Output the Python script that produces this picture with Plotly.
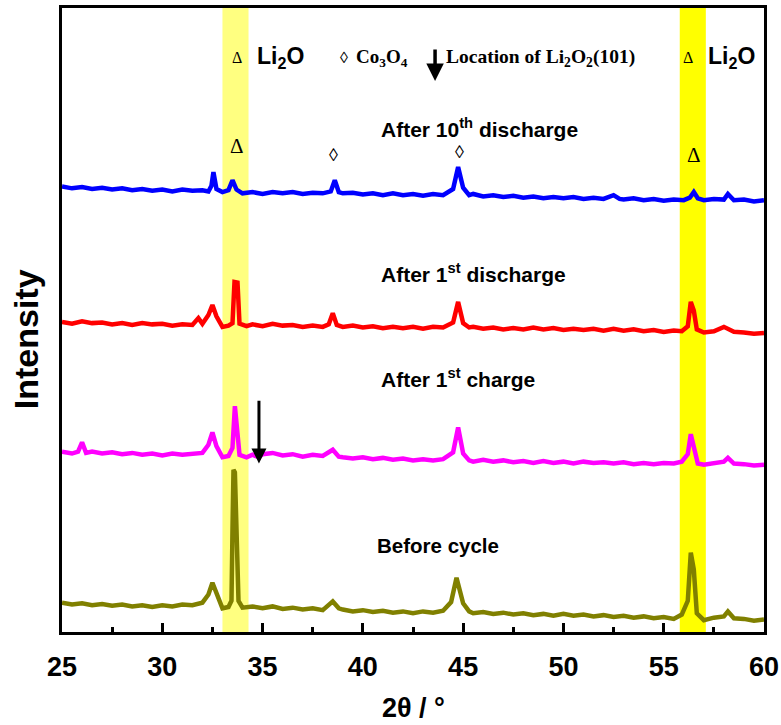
import plotly.graph_objects as go

# ---------------- data ----------------
before_x = [25.0, 25.5, 26.0, 26.5, 27.0, 27.5, 28.0, 28.5, 29.0, 29.5, 30.0, 30.5, 31.0, 31.5, 32.0,
            32.3, 32.5, 32.7, 33.0, 33.3, 33.45, 33.5, 33.55, 33.62, 33.68, 33.8, 34.0, 34.5, 35.0, 35.5,
            36.0, 36.5, 37.0, 37.5, 38.0, 38.5, 38.8, 39.0, 39.5, 40.0, 40.5, 41.0, 41.5, 42.0, 42.5,
            43.0, 43.5, 44.0, 44.4, 44.67, 45.0, 45.3, 45.5, 46.0, 46.5, 47.0, 47.5, 48.0, 48.5, 49.0,
            49.5, 50.0, 50.5, 51.0, 51.5, 52.0, 52.5, 53.0, 53.5, 54.0, 54.5, 55.0, 55.5, 55.9, 56.2,
            56.35, 56.5, 56.65, 57.0, 57.5, 58.0, 58.2, 58.5, 59.0, 59.5, 60.0]
before_y = [4.7, 4.4, 4.6, 4.3, 4.5, 4.2, 4.4, 4.1, 4.3, 4.0, 4.3, 4.1, 4.4, 4.3, 4.7,
            6.0, 7.9, 6.2, 3.8, 4.0, 5.0, 16.4, 26.0, 25.6, 16.0, 5.0, 3.9, 4.1, 3.8, 4.1,
            3.7, 3.9, 3.6, 3.8, 3.5, 4.9, 3.8, 3.6, 3.3, 3.5, 3.2, 3.4, 3.1, 3.3, 3.0,
            3.3, 3.1, 3.4, 4.8, 8.7, 4.6, 3.3, 3.0, 3.2, 2.9, 3.1, 2.8, 3.0, 2.7, 2.9,
            2.6, 2.9, 2.6, 2.8, 2.5, 2.7, 2.4, 2.6, 2.3, 2.5, 2.2, 2.4, 2.1, 2.8, 5.0,
            12.7, 10.0, 3.0, 1.9, 2.3, 2.5, 3.3, 2.2, 2.1, 1.8, 2.0]

charge_x = [25.0, 25.5, 25.8, 26.0, 26.2, 26.5, 27.0, 27.5, 28.0, 28.5, 29.0, 29.5, 30.0, 30.5, 31.0,
            31.5, 32.0, 32.3, 32.5, 32.7, 33.0, 33.3, 33.5, 33.62, 33.7, 33.85, 34.2, 34.5, 34.8, 35.0,
            35.5, 36.0, 36.5, 37.0, 37.5, 38.0, 38.5, 38.8, 39.0, 39.5, 40.0, 40.5, 41.0, 41.5, 42.0,
            42.5, 43.0, 43.5, 44.0, 44.5, 44.75, 45.0, 45.3, 45.5, 46.0, 46.5, 47.0, 47.5, 48.0, 48.5,
            49.0, 49.5, 50.0, 50.5, 51.0, 51.5, 52.0, 52.5, 53.0, 53.5, 54.0, 54.5, 55.0, 55.5, 55.9,
            56.2, 56.35, 56.5, 56.7, 57.0, 57.5, 58.0, 58.2, 58.5, 59.0, 59.5, 60.0]
charge_y = [28.9, 28.6, 28.9, 30.4, 28.7, 28.9, 28.6, 28.8, 28.5, 28.7, 28.4, 28.6, 28.3, 28.6, 28.4,
            28.6, 28.7, 30.0, 32.0, 29.8, 28.0, 28.2, 29.5, 36.2, 33.0, 28.4, 28.0, 28.4, 28.0, 28.5,
            28.7, 28.3, 28.5, 28.1, 28.4, 28.2, 29.2, 28.1, 28.0, 27.8, 28.0, 27.7, 27.9, 27.6, 27.8,
            27.5, 27.7, 27.5, 27.7, 28.8, 32.8, 28.6, 27.5, 27.3, 27.6, 27.3, 27.5, 27.2, 27.4, 27.1,
            27.4, 27.1, 27.3, 27.0, 27.3, 27.1, 27.2, 27.0, 27.2, 26.9, 27.1, 26.9, 27.1, 27.0, 27.3,
            28.5, 31.7, 29.5, 27.0, 26.8, 27.0, 27.3, 27.9, 27.0, 26.9, 26.7, 26.8]

discharge1_x = [25.0, 25.5, 26.0, 26.5, 27.0, 27.5, 28.0, 28.5, 29.0, 29.5, 30.0, 30.5, 31.0, 31.5, 31.8,
                32.0, 32.3, 32.5, 32.7, 33.0, 33.3, 33.5, 33.6, 33.75, 33.85, 34.2, 34.5, 35.0, 35.5, 36.0,
                36.5, 37.0, 37.5, 38.0, 38.3, 38.5, 38.7, 39.0, 39.5, 40.0, 40.5, 41.0, 41.5, 42.0, 42.5,
                43.0, 43.5, 44.0, 44.5, 44.75, 45.0, 45.3, 45.5, 46.0, 46.5, 47.0, 47.5, 48.0, 48.5, 49.0,
                49.5, 50.0, 50.5, 51.0, 51.5, 52.0, 52.5, 53.0, 53.5, 54.0, 54.5, 55.0, 55.5, 55.9, 56.2,
                56.35, 56.5, 56.65, 57.0, 57.5, 58.0, 58.3, 58.5, 59.0, 59.5, 60.0]
discharge1_y = [49.7, 49.4, 49.8, 49.5, 49.6, 49.3, 49.5, 49.2, 49.5, 49.3, 49.4, 49.1, 49.3, 49.2, 50.3,
                49.4, 50.8, 52.4, 50.6, 48.9, 49.1, 49.5, 56.1, 56.0, 49.4, 49.0, 49.3, 49.0, 49.4, 49.1,
                49.2, 48.9, 49.1, 48.9, 49.3, 51.1, 49.2, 48.9, 49.1, 48.8, 49.0, 48.7, 48.9, 48.7, 48.9,
                48.6, 48.9, 48.8, 49.6, 52.9, 49.5, 48.8, 48.9, 48.6, 48.8, 48.5, 48.7, 48.5, 48.8, 48.5,
                48.7, 48.4, 48.6, 48.4, 48.6, 48.3, 48.6, 48.3, 48.5, 48.2, 48.4, 48.1, 48.3, 48.2, 49.0,
                52.9, 51.5, 48.5, 48.0, 48.2, 48.9, 48.3, 48.1, 48.0, 47.8, 47.9]

discharge10_x = [25.0, 25.5, 26.0, 26.5, 27.0, 27.5, 28.0, 28.5, 29.0, 29.5, 30.0, 30.5, 31.0, 31.5, 32.0,
                 32.3, 32.45, 32.55, 32.7, 33.0, 33.3, 33.5, 33.7, 34.0, 34.5, 35.0, 35.5, 36.0, 36.5, 37.0,
                 37.5, 38.0, 38.4, 38.6, 38.8, 39.0, 39.5, 40.0, 40.5, 41.0, 41.5, 42.0, 42.5, 43.0, 43.5,
                 44.0, 44.5, 44.75, 45.0, 45.3, 45.5, 46.0, 46.5, 47.0, 47.5, 48.0, 48.5, 49.0, 49.5, 50.0,
                 50.5, 51.0, 51.5, 52.0, 52.5, 52.8, 53.0, 53.5, 54.0, 54.5, 55.0, 55.5, 56.0, 56.3, 56.5,
                 56.7, 57.0, 57.5, 58.0, 58.2, 58.5, 59.0, 59.5, 60.0]
discharge10_y = [71.4, 71.1, 71.3, 71.0, 71.2, 70.9, 71.1, 70.8, 71.0, 70.7, 70.9, 70.6, 70.9, 70.7, 70.8,
                 70.6, 71.5, 73.7, 71.0, 70.5, 70.8, 72.4, 70.9, 70.3, 70.5, 70.2, 70.5, 70.3, 70.5, 70.2,
                 70.4, 70.3, 70.6, 72.4, 70.5, 70.3, 70.4, 70.1, 70.3, 70.0, 70.3, 70.0, 70.2, 69.9, 70.2,
                 70.0, 71.0, 74.5, 71.2, 70.0, 70.2, 69.8, 70.0, 69.7, 69.9, 69.6, 69.8, 69.5, 69.7, 69.5,
                 69.7, 69.4, 69.6, 69.4, 70.0, 69.4, 69.3, 69.5, 69.2, 69.4, 69.1, 69.3, 69.2, 69.6, 70.5,
                 69.5, 69.2, 69.4, 69.3, 70.2, 69.2, 69.3, 69.0, 69.2]

series_names = ["Before cycle", "After 1st charge", "After 1st discharge", "After 10th discharge"]
series_colors = ["#808000", "#ff00ff", "#ff0000", "#0000ff"]

band_li2o_1 = [33.0, 34.3]
band_li2o_2 = [55.8, 57.1]
x_ticks = [25, 30, 35, 40, 45, 50, 55, 60]

# ---------------- figure ----------------
fig = go.Figure()
for xs, ys, name, col in zip([before_x, charge_x, discharge1_x, discharge10_x],
                             [before_y, charge_y, discharge1_y, discharge10_y],
                             series_names, series_colors):
    fig.add_trace(go.Scatter(x=xs, y=ys, mode="lines", name=name,
                             line=dict(color=col, width=4.5), showlegend=False))

fig.add_shape(type="rect", xref="x", yref="paper", x0=band_li2o_1[0], x1=band_li2o_1[1],
              y0=0, y1=1, fillcolor="#ffff80", line=dict(width=0), layer="below")
fig.add_shape(type="rect", xref="x", yref="paper", x0=band_li2o_2[0], x1=band_li2o_2[1],
              y0=0, y1=1, fillcolor="#ffff00", line=dict(width=0), layer="below")

arial_b = "Liberation Sans"
serif = "Liberation Serif"

def txt(x, y, s, size, family=arial_b, xanchor="center", bold=True):
    fig.add_annotation(x=x, y=y, xref="x", yref="y", text=(f"<b>{s}</b>" if bold else s),
                       showarrow=False, xanchor=xanchor, yanchor="middle",
                       font=dict(family=family, size=size, color="black"))

# top legend row
txt(33.72, 92.0, "Δ", 16, family=serif, bold=False)
txt(34.62, 92.0, "Li<sub>2</sub>O", 23, xanchor="left")
txt(56.2, 92.0, "Δ", 16, family=serif, bold=False)
txt(57.1, 92.0, "Li<sub>2</sub>O", 23, xanchor="left")
txt(39.06, 92.0, "◊", 16, family=serif, bold=False)
txt(39.55, 92.0, "Co<sub>3</sub>O<sub>4</sub>", 19, family=serif, xanchor="left")
txt(44.05, 92.0, "Location of Li<sub>2</sub>O<sub>2</sub>(101)", 19.5, family=serif, xanchor="left")
fig.add_annotation(x=43.6, y=88.3, xref="x", yref="y", ax=43.6, ay=93.6, axref="x", ayref="y",
                   showarrow=True, arrowhead=2, arrowsize=1, arrowwidth=3.5, arrowcolor="black", text="")

# series labels
txt(45.84, 80.8, "After 10<sup>th</sup> discharge", 21)
txt(45.54, 57.5, "After 1<sup>st</sup> discharge", 21)
txt(44.74, 40.7, "After 1<sup>st</sup> charge", 21)
txt(43.74, 13.9, "Before cycle", 20.5)

# peak markers on top trace
txt(33.72, 77.9, "Δ", 21, family=serif, bold=False)
txt(38.56, 76.4, "◊", 18, family=serif, bold=False)
txt(44.84, 76.9, "◊", 18, family=serif, bold=False)
txt(56.5, 76.4, "Δ", 21, family=serif, bold=False)

# Li2O2 location arrow
fig.add_annotation(x=34.82, y=27.0, xref="x", yref="y", ax=34.82, ay=37.3, axref="x", ayref="y",
                   showarrow=True, arrowhead=2, arrowsize=1, arrowwidth=3, arrowcolor="black", text="")

# axis titles
fig.add_annotation(x=-0.052, y=0.47, xref="paper", yref="paper", text="<b>Intensity</b>",
                   showarrow=False, textangle=-90, xanchor="center", yanchor="middle",
                   font=dict(family=arial_b, size=34, color="black"))
fig.add_annotation(x=0.5, y=-0.122, xref="paper", yref="paper", text="<b>2θ / °</b>",
                   showarrow=False, xanchor="center", yanchor="middle",
                   font=dict(family=arial_b, size=27, color="black"))

fig.update_xaxes(range=[25, 60], tickvals=x_ticks, ticktext=[f"<b>{v}</b>" for v in x_ticks],
                 ticks="inside", ticklen=9, tickwidth=3, tickcolor="black",
                 minor=dict(dtick=2.5, tick0=27.5, ticks="inside", ticklen=5, tickwidth=3, tickcolor="black"),
                 showline=True, linewidth=3, linecolor="black", mirror=True, automargin=False,
                 showgrid=False, zeroline=False, ticklabelstandoff=9,
                 tickfont=dict(family=arial_b, size=27, color="black", weight="bold"))
fig.update_yaxes(range=[0, 100], showticklabels=False, ticks="", automargin=False,
                 showline=True, linewidth=3, linecolor="black", mirror=True,
                 showgrid=False, zeroline=False)

fig.update_layout(width=781, height=725, margin=dict(l=62, r=17, t=8, b=93),
                  plot_bgcolor="white", paper_bgcolor="white")

fig.write_html("out.html")
